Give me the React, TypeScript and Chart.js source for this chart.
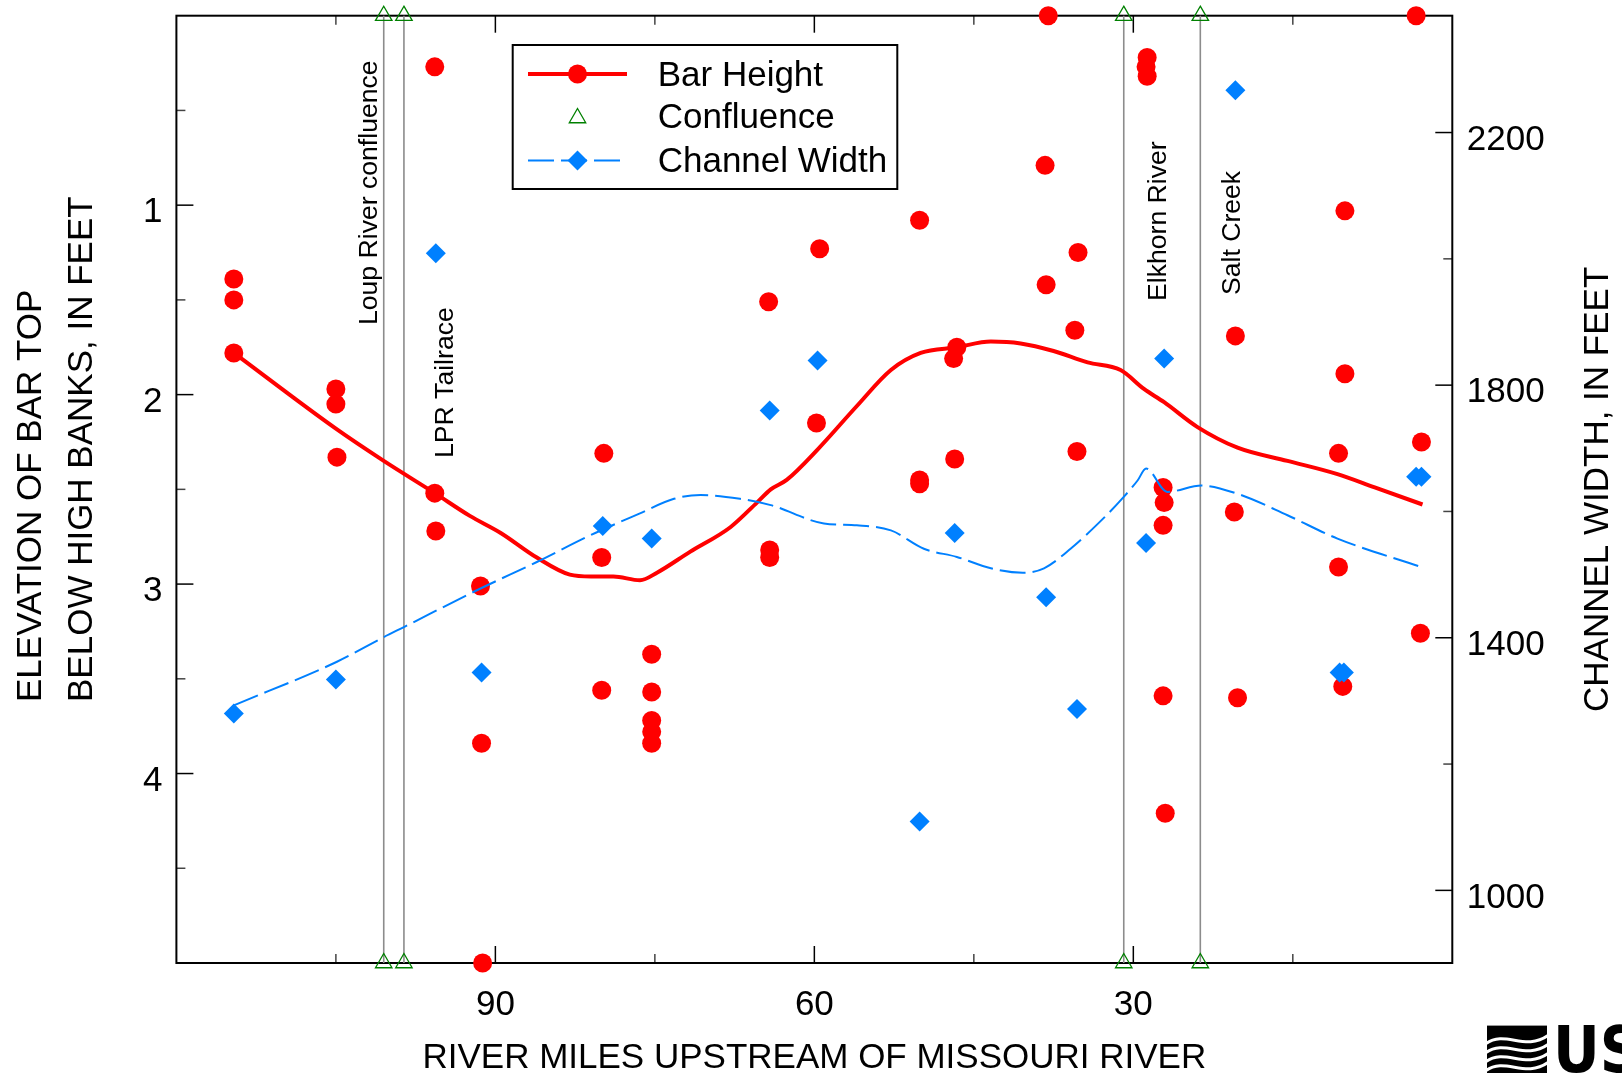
import React, { useEffect, useRef } from "react";
import { Chart, registerables } from "chart.js";

Chart.register(...registerables);

const FONT = '"Liberation Sans", Arial, Helvetica, sans-serif';
const NARROW = '"Liberation Sans Narrow", "DejaVu Sans Condensed", "Liberation Sans", Arial, sans-serif';

// ---------- DATA ----------
// Bar height observations: river mile and elevation of bar top below high banks (ft)
const barMiles = [114.6, 114.6, 114.6, 105.0, 105.0, 104.9, 95.7, 95.7, 95.6, 91.4, 91.3, 91.2, 79.8, 80.0, 80.0, 75.3, 75.3, 75.3, 75.3, 75.3, 64.3, 64.2, 64.2, 59.5, 59.8, 50.1, 50.1, 50.1, 46.6, 46.9, 46.8, 38.0, 38.3, 38.2, 35.2, 35.5, 35.3, 28.7, 28.8, 28.7, 27.2, 27.1, 27.2, 27.2, 27.0, 20.4, 20.5, 20.2, 10.1, 10.1, 10.7, 10.7, 10.3, 3.4, 2.9, 3.0];
const barHeights = [1.39, 1.5, 1.78, 1.97, 2.05, 2.33, 0.27, 2.52, 2.72, 3.01, 3.84, 5.0, 2.31, 2.86, 3.56, 3.37, 3.57, 3.72, 3.78, 3.84, 1.51, 2.82, 2.86, 1.23, 2.15, 1.08, 2.45, 2.47, 1.75, 1.81, 2.34, 0.0, 0.79, 1.42, 1.25, 1.66, 2.3, 0.22, 0.27, 0.32, 2.49, 2.57, 2.69, 3.59, 4.21, 1.69, 2.62, 3.6, 1.03, 1.89, 2.31, 2.91, 3.54, 0.0, 2.25, 3.26];

// Channel width observations: river mile and width (ft)
const widthMiles = [114.6, 105.0, 95.6, 91.3, 79.9, 75.3, 64.2, 59.7, 50.1, 46.8, 38.2, 35.3, 28.8, 27.1, 20.4, 10.6, 10.2, 3.4, 2.9];
const widthFeet = [1280, 1334, 2009, 1345, 1577, 1557, 1760, 1839, 1109, 1566, 1464, 1287, 1550, 1842, 2267, 1345, 1345, 1655, 1655];

// Smoothed bar-height trend
const barTrendMiles = [114.6, 105.0, 100.5, 95.7, 92.4, 89.5, 86.1, 83.0, 81.0, 78.9, 76.4, 74.8, 71.7, 67.9, 65.4, 64.1, 62.6, 59.7, 56.0, 52.8, 50.0, 46.6, 43.4, 40.6, 37.5, 34.3, 31.2, 29.0, 27.1, 24.0, 20.2, 15.5, 10.8, 7.3, 2.8];
const barTrendHeights = [1.78, 2.18, 2.35, 2.52, 2.64, 2.73, 2.86, 2.95, 2.96, 2.96, 2.98, 2.94, 2.83, 2.7, 2.57, 2.5, 2.45, 2.29, 2.06, 1.87, 1.78, 1.75, 1.72, 1.73, 1.77, 1.83, 1.87, 1.97, 2.04, 2.17, 2.28, 2.35, 2.42, 2.49, 2.58];

// Smoothed channel-width trend
const widthTrendMiles = [114.6, 104.9, 100.5, 98.6, 91.4, 86.1, 81.1, 76.4, 73.2, 70.7, 67.0, 64.1, 59.1, 56.0, 52.8, 49.7, 46.6, 43.4, 40.4, 38.4, 35.9, 32.7, 30.9, 29.6, 28.8, 26.8, 23.6, 20.2, 15.5, 10.8, 2.9];
const widthTrendFeet = [1293, 1362, 1401, 1417, 1478, 1520, 1562, 1597, 1620, 1626, 1620, 1610, 1581, 1578, 1570, 1541, 1528, 1510, 1503, 1510, 1541, 1591, 1623, 1649, 1668, 1631, 1641, 1628, 1594, 1557, 1512];

// Confluences
const confluenceMiles = [100.5, 98.6, 30.9, 23.7];
const confluenceNames = ["Loup River confluence", "LPR Tailrace", "Elkhorn River", "Salt Creek"];

// Axes
const xRange = [0, 120];
const leftRange = [0, 5];
const rightRange = [885, 2385];
const xTickValues = [90, 60, 30];
const xMinorTickValues = [105, 75, 45, 15];
const leftTickValues = [1, 2, 3, 4];
const leftMinorTickValues = [0.5, 1.5, 2.5, 3.5, 4.5];
const rightTickValues = [1000, 1400, 1800, 2200];
const rightMinorTickValues = [1200, 1600, 2000];

const xTitle = "RIVER MILES UPSTREAM OF MISSOURI RIVER";
const leftTitle = ["ELEVATION OF BAR TOP", "BELOW HIGH BANKS, IN FEET"];
const rightTitle = "CHANNEL WIDTH, IN FEET";
const legendLabels = ["Bar Height", "Confluence", "Channel Width"];

// ---------- STYLE ----------
const RED = "#ff0000";
const BLUE = "#0080ff";
const GREEN = "#008000";
const GRAY = "#8c8c8c";
const BLUE_DASH = [26, 7];

const annotationLayout = [
  { dx: -6.5, y: 325 },
  { dx: 48.6, y: 458 },
  { dx: 42, y: 301 },
  { dx: 39.6, y: 295 },
];

function pts(xs: number[], ys: number[]) {
  return xs.map((x, i) => ({ x, y: ys[i] }));
}

function trianglePath(ctx: CanvasRenderingContext2D, cx: number, cy: number, r: number) {
  ctx.beginPath();
  let rad = 0;
  ctx.moveTo(cx + Math.sin(rad) * r, cy - Math.cos(rad) * r);
  rad += (2 * Math.PI) / 3;
  ctx.lineTo(cx + Math.sin(rad) * r, cy - Math.cos(rad) * r);
  rad += (2 * Math.PI) / 3;
  ctx.lineTo(cx + Math.sin(rad) * r, cy - Math.cos(rad) * r);
  ctx.closePath();
}

function diamondPath(ctx: CanvasRenderingContext2D, cx: number, cy: number, r: number) {
  ctx.beginPath();
  ctx.moveTo(cx - r, cy);
  ctx.lineTo(cx, cy - r);
  ctx.lineTo(cx + r, cy);
  ctx.lineTo(cx, cy + r);
  ctx.closePath();
}

const decorPlugin = {
  id: "decor",
  beforeDatasetsDraw(chart: any) {
    const { ctx, chartArea: a, scales } = chart;
    const sx = scales.x, sl = scales.y, sr = scales.y1;
    ctx.save();
    const seg = (x1: number, y1: number, x2: number, y2: number, c: string) => {
      ctx.beginPath();
      ctx.lineWidth = 1.5;
      ctx.strokeStyle = c;
      ctx.moveTo(x1, y1);
      ctx.lineTo(x2, y2);
      ctx.stroke();
    };
    const MAJ = 17, MIN = 9;
    for (const v of xTickValues) {
      const p = sx.getPixelForValue(v);
      seg(p, a.top, p, a.top + MAJ, "#000");
      seg(p, a.bottom, p, a.bottom - MAJ, "#000");
    }
    for (const v of xMinorTickValues) {
      const p = sx.getPixelForValue(v);
      seg(p, a.top, p, a.top + MIN, "#444");
      seg(p, a.bottom, p, a.bottom - MIN, "#444");
    }
    for (const v of leftTickValues) {
      const p = sl.getPixelForValue(v);
      seg(a.left, p, a.left + MAJ, p, "#000");
    }
    for (const v of leftMinorTickValues) {
      const p = sl.getPixelForValue(v);
      seg(a.left, p, a.left + MIN, p, "#444");
    }
    for (const v of rightTickValues) {
      const p = sr.getPixelForValue(v);
      seg(a.right, p, a.right - MAJ, p, "#000");
    }
    for (const v of rightMinorTickValues) {
      const p = sr.getPixelForValue(v);
      seg(a.right, p, a.right - MIN, p, "#444");
    }
    ctx.lineWidth = 2;
    ctx.strokeStyle = "#000";
    ctx.strokeRect(a.left, a.top, a.right - a.left, a.bottom - a.top);
    ctx.restore();
  },
  afterDraw(chart: any) {
    const { ctx, chartArea: a, scales } = chart;
    const sx = scales.x;
    ctx.save();
    ctx.fillStyle = "#000";

    // confluence annotations
    ctx.font = `26.6px ${FONT}`;
    ctx.textAlign = "left";
    ctx.textBaseline = "alphabetic";
    confluenceNames.forEach((name, i) => {
      const px = sx.getPixelForValue(confluenceMiles[i]) + annotationLayout[i].dx;
      ctx.save();
      ctx.translate(px, annotationLayout[i].y);
      ctx.rotate(-Math.PI / 2);
      ctx.fillText(name, 0, 0);
      ctx.restore();
    });

    // axis titles
    ctx.font = `35px ${FONT}`;
    ctx.textAlign = "center";
    ctx.textBaseline = "middle";
    ctx.fillText(xTitle, (a.left + a.right) / 2, a.bottom + 95);

    ctx.textAlign = "left";
    ctx.textBaseline = "alphabetic";
    const leftX = [a.left - 135, a.left - 84];
    leftTitle.forEach((t, i) => {
      ctx.save();
      ctx.translate(leftX[i], a.bottom - 261);
      ctx.rotate(-Math.PI / 2);
      ctx.fillText(t, 0, 0);
      ctx.restore();
    });
    ctx.save();
    ctx.translate(a.right + 155.2, a.bottom - 251);
    ctx.rotate(-Math.PI / 2);
    ctx.fillText(rightTitle, 0, 0);
    ctx.restore();

    // legend
    const L = { x: a.left + 336.3, y: a.top + 29.3, w: 384.6, h: 144 };
    ctx.fillStyle = "#fff";
    ctx.fillRect(L.x, L.y, L.w, L.h);
    ctx.lineWidth = 2;
    ctx.strokeStyle = "#000";
    ctx.strokeRect(L.x, L.y, L.w, L.h);
    const rowY = [L.y + 29, L.y + 71.5, L.y + 115.5];
    const cx = L.x + 64.8;
    const lx1 = L.x + 15.3, lx2 = L.x + 114.3;
    // Bar height
    ctx.beginPath();
    ctx.lineWidth = 4;
    ctx.strokeStyle = RED;
    ctx.moveTo(lx1, rowY[0]);
    ctx.lineTo(lx2, rowY[0]);
    ctx.stroke();
    ctx.beginPath();
    ctx.fillStyle = RED;
    ctx.arc(cx, rowY[0], 9.5, 0, Math.PI * 2);
    ctx.fill();
    // Confluence
    ctx.lineWidth = 1.3;
    ctx.strokeStyle = GREEN;
    trianglePath(ctx, cx, rowY[1] + 1.5, 9.5);
    ctx.stroke();
    // Channel width
    ctx.beginPath();
    ctx.lineWidth = 2;
    ctx.strokeStyle = BLUE;
    ctx.setLineDash(BLUE_DASH);
    ctx.moveTo(lx1, rowY[2]);
    ctx.lineTo(lx2, rowY[2]);
    ctx.stroke();
    ctx.setLineDash([]);
    ctx.fillStyle = BLUE;
    diamondPath(ctx, cx, rowY[2], 10);
    ctx.fill();
    // legend text
    ctx.fillStyle = "#000";
    ctx.font = `35px ${FONT}`;
    ctx.textAlign = "left";
    ctx.textBaseline = "middle";
    const textY = [L.y + 31, L.y + 73.5, L.y + 117.5];
    legendLabels.forEach((t, i) => ctx.fillText(t, L.x + 145, textY[i]));

    // USGS logo (partially cut at the page edge)
    const gx = a.right + 34.7, gy = a.bottom + 62.6;
    ctx.fillStyle = "#000";
    ctx.fillRect(gx, gy, 60, 50);
    ctx.strokeStyle = "#fff";
    ctx.lineWidth = 3;
    for (let i = 0; i < 4; i++) {
      const y0 = gy + 14 + i * 9;
      ctx.beginPath();
      ctx.moveTo(gx - 1, y0 + 4);
      ctx.bezierCurveTo(gx + 18, y0 - 10, gx + 38, y0 + 12, gx + 61, y0 - 4);
      ctx.stroke();
    }
    ctx.fillStyle = "#000";
    ctx.font = `bold 64px ${NARROW}`;
    ctx.textBaseline = "alphabetic";
    ctx.textAlign = "left";
    ctx.fillText("USGS", gx + 66, gy + 46);
    ctx.restore();
  },
};

export default function App() {
  const ref = useRef<HTMLCanvasElement>(null);
  useEffect(() => {
    const canvas = ref.current;
    if (!canvas) return;
    const tickFont = { family: FONT, size: 35 };
    const confluencePoints: { x: number; y: number }[] = [];
    confluenceMiles.forEach((m) => {
      confluencePoints.push({ x: m, y: leftRange[0] });
      confluencePoints.push({ x: m, y: leftRange[1] });
    });
    const grayLines = confluenceMiles.map((m) => ({
      label: "_line",
      data: [
        { x: m, y: leftRange[0] },
        { x: m, y: leftRange[1] },
      ],
      yAxisID: "y",
      showLine: true,
      borderColor: GRAY,
      borderWidth: 1.6,
      pointRadius: 0,
      clip: false as const,
    }));
    const chart = new Chart(canvas, {
      type: "scatter",
      data: {
        datasets: [
          {
            label: "Channel Width",
            data: pts(widthMiles, widthFeet),
            yAxisID: "y1",
            pointStyle: "rectRot",
            pointRadius: 10,
            backgroundColor: BLUE,
            borderColor: BLUE,
            borderWidth: 0,
            clip: false,
          },
          {
            label: "Channel Width trend",
            data: pts(widthTrendMiles, widthTrendFeet),
            yAxisID: "y1",
            showLine: true,
            borderColor: BLUE,
            borderWidth: 2,
            borderDash: BLUE_DASH,
            pointRadius: 0,
            cubicInterpolationMode: "monotone",
            clip: false,
          },
          {
            label: "Bar Height",
            data: pts(barMiles, barHeights),
            yAxisID: "y",
            pointStyle: "circle",
            pointRadius: 9.5,
            backgroundColor: RED,
            borderColor: RED,
            borderWidth: 0,
            clip: false,
          },
          {
            label: "Bar Height trend",
            data: pts(barTrendMiles, barTrendHeights),
            yAxisID: "y",
            showLine: true,
            borderColor: RED,
            borderWidth: 4,
            pointRadius: 0,
            cubicInterpolationMode: "monotone",
            clip: false,
          },
          {
            label: "Confluence",
            data: confluencePoints,
            yAxisID: "y",
            pointStyle: "triangle",
            pointRadius: 9.5,
            backgroundColor: "rgba(0,0,0,0)",
            borderColor: GREEN,
            borderWidth: 1.3,
            clip: false,
          },
          ...grayLines,
        ] as any,
      },
      options: {
        animation: false,
        responsive: false,
        devicePixelRatio: 1,
        events: [],
        layout: { padding: { top: 15.7, left: 0, right: 0, bottom: 0 } },
        plugins: {
          legend: { display: false },
          tooltip: { enabled: false },
          title: { display: false },
        },
        scales: {
          x: {
            type: "linear",
            position: "bottom",
            min: xRange[0],
            max: xRange[1],
            reverse: true,
            grid: { display: false, drawTicks: false },
            border: { display: false },
            ticks: {
              font: tickFont,
              color: "#000",
              padding: 21.5,
              autoSkip: false,
              maxRotation: 0,
              callback: (v: any) => String(v),
            },
            afterBuildTicks: (s: any) => {
              s.ticks = xTickValues.map((v) => ({ value: v }));
            },
            afterFit: (s: any) => {
              s.height = 110;
              s.paddingLeft = 0;
              s.paddingRight = 0;
            },
          },
          y: {
            type: "linear",
            position: "left",
            min: leftRange[0],
            max: leftRange[1],
            reverse: true,
            grid: { display: false, drawTicks: false },
            border: { display: false },
            ticks: {
              font: tickFont,
              color: "#000",
              padding: 14,
              labelOffset: 7.5,
              autoSkip: false,
              callback: (v: any) => String(v),
            },
            afterBuildTicks: (s: any) => {
              s.ticks = leftTickValues.map((v) => ({ value: v }));
            },
            afterFit: (s: any) => {
              s.width = 176.4;
              s.paddingTop = 0;
              s.paddingBottom = 0;
            },
          },
          y1: {
            type: "linear",
            position: "right",
            min: rightRange[0],
            max: rightRange[1],
            grid: { display: false, drawTicks: false },
            border: { display: false },
            ticks: {
              font: tickFont,
              color: "#000",
              padding: 14.5,
              labelOffset: 7.5,
              autoSkip: false,
              callback: (v: any) => String(v),
            },
            afterBuildTicks: (s: any) => {
              s.ticks = rightTickValues.map((v) => ({ value: v }));
            },
            afterFit: (s: any) => {
              s.width = 169.7;
              s.paddingTop = 0;
              s.paddingBottom = 0;
            },
          },
        },
      } as any,
      plugins: [decorPlugin as any],
    });
    return () => chart.destroy();
  }, []);
  return (
    <canvas
      ref={ref}
      width={1622}
      height={1073}
      style={{ position: "fixed", left: 0, top: 0, width: "1622px", height: "1073px", display: "block", background: "#fff" }}
    />
  );
}
